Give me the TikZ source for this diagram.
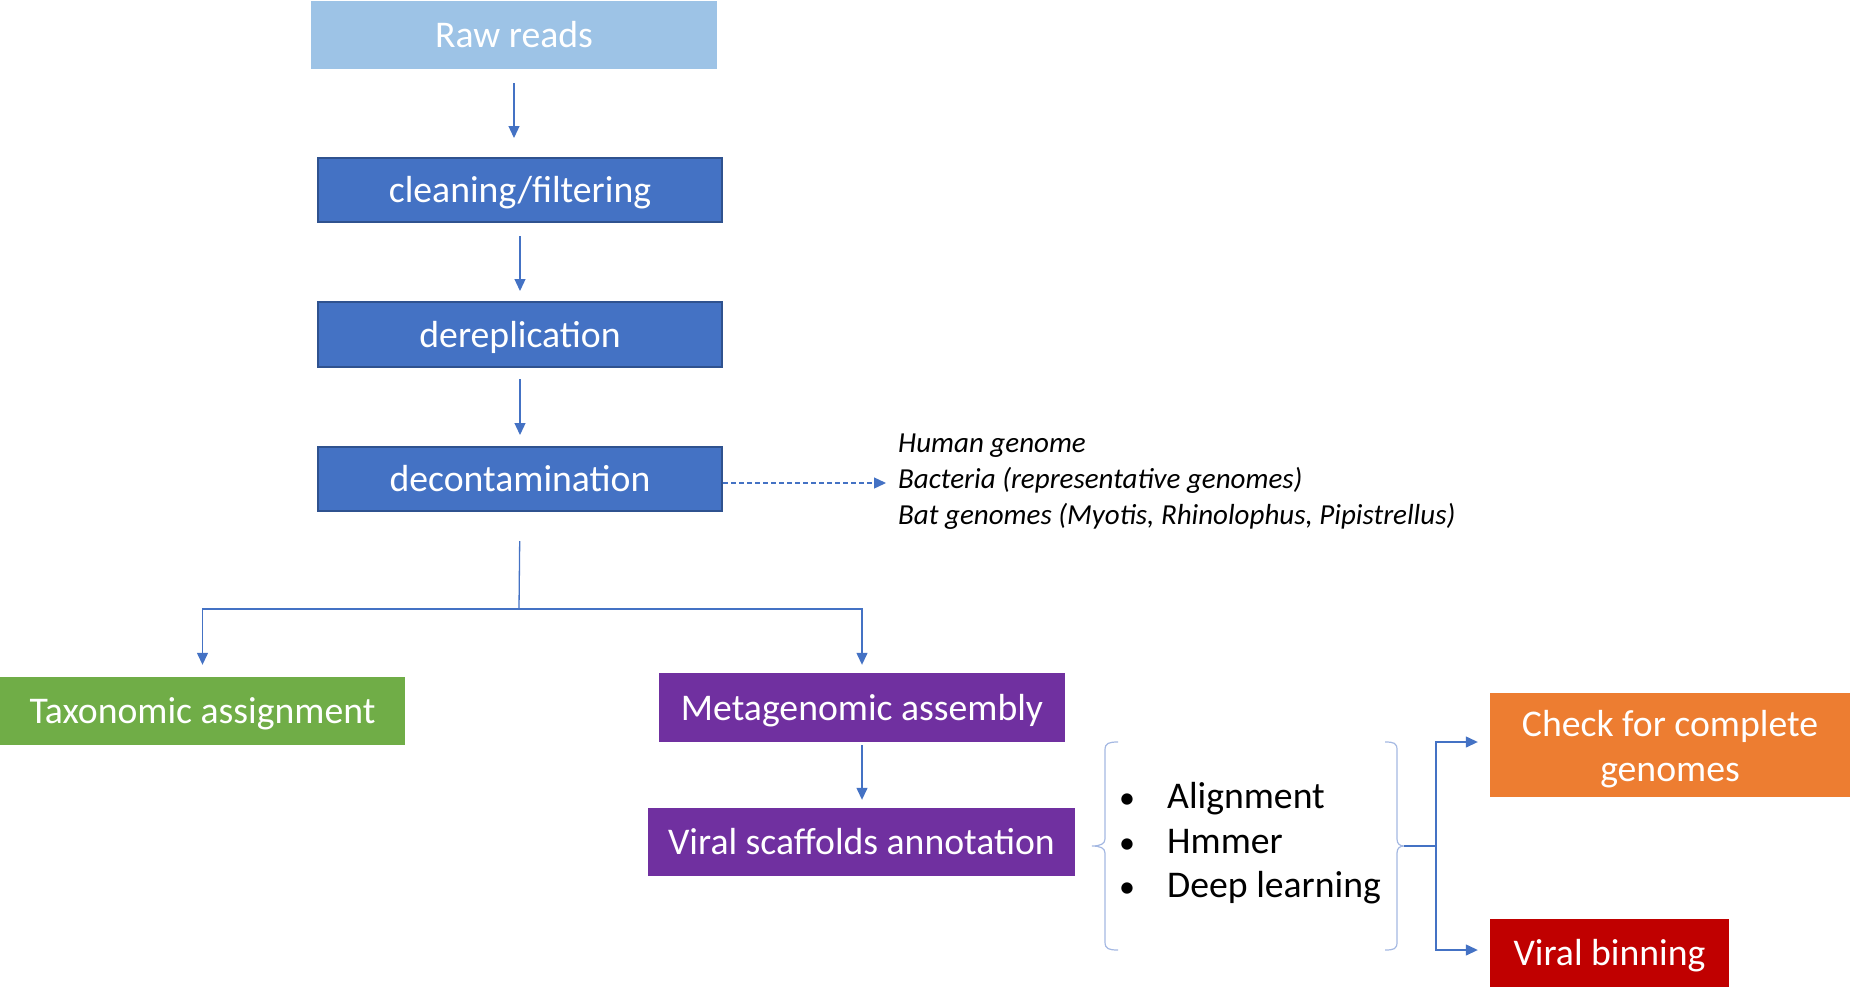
\documentclass[tikz,border=0pt]{standalone}
\usepackage{fontspec}
\setmainfont{Carlito}
\usetikzlibrary{arrows.meta}
\definecolor{rawblue}{HTML}{9DC3E6}
\definecolor{stepblue}{HTML}{4472C4}
\definecolor{stepedge}{HTML}{2F528F}
\definecolor{taxgreen}{HTML}{70AD47}
\definecolor{vpurple}{HTML}{7030A0}
\definecolor{corange}{HTML}{ED7D31}
\definecolor{bred}{HTML}{C00000}
\definecolor{linkblue}{HTML}{4472C4}
\definecolor{bracecol}{HTML}{A4B8E2}
\tikzset{
  boxbase/.style={inner sep=0pt, text=white, align=center,
    font=\fontsize{37.7}{45}\selectfont},
  oneline/.style={text height=30pt, text depth=5pt},
  rawbox/.style={boxbase, oneline, fill=rawblue},
  stepbox/.style={boxbase, oneline, fill=stepblue, draw=stepedge, line width=2pt},
  flatbox/.style={boxbase, oneline},
  twoline/.style={boxbase},
  conn/.style={draw=linkblue, line width=1.3pt},
  arr/.style={conn, -{Triangle[length=12pt,width=11pt]}},
  brace/.style={draw=bracecol, line width=1.2pt},
  note/.style={inner sep=0pt, anchor=base west, font=\fontsize{29}{34}\selectfont\itshape},
  item/.style={inner sep=0pt, anchor=base west, font=\fontsize{37.7}{45}\selectfont},
  dot/.style={inner sep=0pt, anchor=base west, font=\fontsize{32}{40}\selectfont},
}
\begin{document}
\begin{tikzpicture}[x=1pt,y=-1pt]
\useasboundingbox (0,0) rectangle (1850,999);
% boxes
\node[rawbox, minimum width=406pt, minimum height=68pt] (raw) at (514,35) {Raw reads};
\node[stepbox, minimum width=404pt, minimum height=64pt] (clean) at (520,190) {cleaning/filtering};
\node[stepbox, minimum width=404pt, minimum height=65pt] (derep) at (520,334.5) {dereplication};
\node[stepbox, minimum width=404pt, minimum height=64pt] (decont) at (520,479) {decontamination};
\node[flatbox, fill=taxgreen, minimum width=405pt, minimum height=68pt] (tax) at (202.5,711) {Taxonomic assignment};
\node[flatbox, fill=vpurple, minimum width=406pt, minimum height=69pt] (meta) at (862,707.5) {Metagenomic assembly};
\node[flatbox, fill=vpurple, minimum width=427pt, minimum height=68pt] (viral) at (861.5,842) {Viral scaffolds annotation};
\node[twoline, fill=corange, minimum width=360pt, minimum height=104pt] (check) at (1670,745) {\rule{0pt}{35pt}Check for complete\\genomes};
\node[flatbox, fill=bred, minimum width=239pt, minimum height=68pt] (bin) at (1609.5,953) {Viral binning};
% vertical chain
\draw[arr, shorten <=14pt, shorten >=19pt] (raw.south) -- (raw.south |- clean.north);
\draw[arr, shorten <=13pt, shorten >=10pt] (clean.south) -- (clean.south |- derep.north);
\draw[arr, shorten <=11pt, shorten >=11pt] (derep.south) -- (derep.south |- decont.north);
% decontamination references
\coordinate (dashend) at (886,483);
\draw[arr, dashed, dash pattern=on 5pt off 3pt] (decont.east |- dashend) -- (dashend);
\node[note] (n1) at (898,452) {Human genome};
\node[note] (n2) at (898,488) {Bacteria (representative genomes)};
\node[note] (n3) at (898,524) {Bat genomes (Myotis, Rhinolophus, Pipistrellus)};
% branch
\coordinate (br) at (519,609);
\draw[conn, shorten <=29pt] (decont.south) -- (br);
\draw[arr, shorten >=12pt] (br) -| (tax.north);
\draw[arr, shorten >=8pt] (br) -| (meta.north);
\draw[arr, shorten <=3pt, shorten >=8pt] (meta.south) -- (meta.south |- viral.north);
% bullet list
\node[dot] (b1) at (1119,808) {•};
\node[dot] (b2) at (1119,853) {•};
\node[dot] (b3) at (1119,897) {•};
\node[item] (t1) at (1167,808) {Alignment};
\node[item] (t2) at (1167,853) {Hmmer};
\node[item] (t3) at (1167,897) {Deep learning};
% braces
\draw[brace] (1118,742) .. controls (1109,742) and (1105,743) .. (1105,750) -- (1105,839)
  .. controls (1105,844) and (1100,846) .. (1092,846)
  .. controls (1100,846) and (1105,848) .. (1105,853) -- (1105,942)
  .. controls (1105,949) and (1109,950) .. (1118,950);
\coordinate (rtip) at (1404,846);
\draw[brace] (1385,742) .. controls (1394,742) and (1397,743) .. (1397,750) -- (1397,839)
  .. controls (1397,844) and (1400,846) .. (rtip)
  .. controls (1400,846) and (1397,848) .. (1397,853) -- (1397,942)
  .. controls (1397,949) and (1394,950) .. (1385,950);
% right connectors
\coordinate (jn) at (1436,846);
\draw[conn] (rtip) -- (jn);
\draw[arr, shorten >=12pt] (jn) |- ([yshift=3pt]check.west);
\draw[arr, shorten >=12pt] (jn) |- ([yshift=3pt]bin.west);
\end{tikzpicture}
\end{document}
